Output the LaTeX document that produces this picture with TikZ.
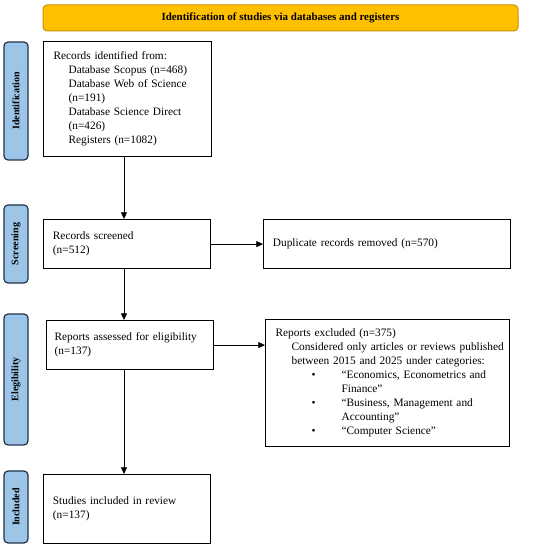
\documentclass[tikz,border=0pt]{standalone}
\usepackage{fontspec}
\setmainfont{Liberation Serif}
\usetikzlibrary{arrows.meta}
\definecolor{myheadgold}{RGB}{255, 192, 0}
\definecolor{myheadedge}{RGB}{205, 145, 0}
\definecolor{mytagblue}{RGB}{157, 197, 232}
\definecolor{mytagedge}{RGB}{35, 50, 75}
\tikzset{every picture/.style={line width=0.75pt}}
\tikzset{
  recbox/.style={draw, line width=0.9pt, rectangle, anchor=north west, align=left, inner ysep=0pt, font=\fontsize{8.5}{10.5}\selectfont},
  phasetag/.style={draw=mytagedge, fill=mytagblue, line width=0.9pt, rounded corners=3pt, rotate=90, minimum height=18pt, inner sep=0pt, font=\fontsize{7.5}{9}\selectfont\bfseries},
  headbar/.style={draw=myheadedge, fill=myheadgold, rounded corners=3pt, minimum width=356.25pt, minimum height=19.5pt, font=\fontsize{8.2}{10}\selectfont\bfseries},
  flowarrow/.style={-{Triangle[length=5pt,width=4.5pt]}, line width=0.6pt}
}

\begin{document}
\begin{tikzpicture}[x=0.75pt,y=0.75pt,yscale=-1,xscale=1]
\useasboundingbox (0,0) rectangle (550,548);
%header bar
\node [headbar] (head) at (280.5,18) {Identification of studies via databases and registers};
%phase tags on the left
\node [phasetag, minimum width=88.5pt] (tagid) at (16,101) {Identification};
\node [phasetag, minimum width=58.5pt] (tagscr) at (16,244) {Screening};
\node [phasetag, minimum width=98.25pt] (tagel) at (16,379.5) {Elegibility};
\node [phasetag, minimum width=54pt] (taginc) at (16,507) {Included};
%record boxes
\node [recbox, inner xsep=7.5pt, text width=111pt, minimum height=86.25pt] (ident) at (43,41) {Records identified from:\\
  \hspace*{11.25pt}Database Scopus (n=468)\\
  \hspace*{11.25pt}Database Web of Science\\
  \hspace*{11.25pt}(n=191)\\
  \hspace*{11.25pt}Database Science Direct\\
  \hspace*{11.25pt}(n=426)\\
  \hspace*{11.25pt}Registers (n=1082)};
\node [recbox, inner xsep=7pt, text width=111pt, minimum height=36.75pt] (screen) at (43,219) {Records screened\\(n=512)};
\node [recbox, inner xsep=7pt, text width=171pt, minimum height=36.75pt] (dupl) at (263,219) {Duplicate records removed (n=570)};
\node [recbox, inner xsep=6pt, text width=113pt, minimum height=36.75pt] (assess) at (46,320) {Reports assessed for eligibility\\(n=137)};
\node [recbox, inner xsep=7.5pt, text width=168pt, minimum height=95.25pt] (excl) at (265,319) {Reports excluded (n=375)\\
  \hspace*{12pt}\mbox{Considered only articles or reviews published}\\
  \hspace*{12pt}between 2015 and 2025 under categories:\\
  \hspace*{27pt}\makebox[22.5pt][l]{\textbullet}``Economics, Econometrics and\\
  \hspace*{49.5pt}Finance''\\
  \hspace*{27pt}\makebox[22.5pt][l]{\textbullet}``Business, Management and\\
  \hspace*{49.5pt}Accounting''\\
  \hspace*{27pt}\makebox[22.5pt][l]{\textbullet}``Computer Science''};
\node [recbox, inner xsep=7pt, text width=111pt, minimum height=51.75pt] (incl) at (43,474) {Studies included in review\\(n=137)};
%connectors
\coordinate (spine) at (124,0);
\draw [flowarrow] (ident.south -| spine) -- (screen.north -| spine);
\draw [flowarrow] (screen.south -| spine) -- (assess.north -| spine);
\draw [flowarrow] (assess.south -| spine) -- (incl.north -| spine);
\draw [flowarrow] (screen.east) -- (dupl.west);
\draw [flowarrow] (assess.east) -- (assess.east -| excl.west);
\end{tikzpicture}
\end{document}
